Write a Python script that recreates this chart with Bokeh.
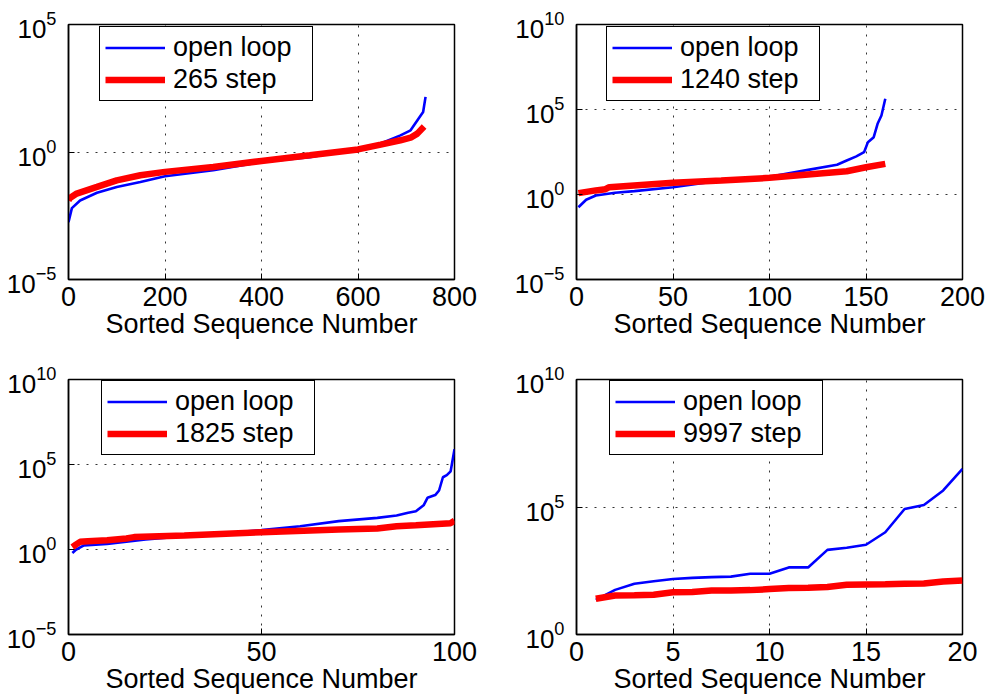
from bokeh.plotting import figure
from bokeh.models import Range1d, FixedTicker, Legend, LegendItem
from bokeh.layouts import column, row
from bokeh.embed import file_html
from bokeh.resources import INLINE

FONT = "Liberation Sans"
BLUE = "#0000ff"
RED = "#ff0000"

# ---------------- data ----------------
# Panel 1: 265 step
p1_blue_x = [0, 7, 24, 59, 100, 149, 200, 300, 400, 500, 600, 647, 688, 709, 726, 735, 740]
p1_blue_y = [0.00178, 0.00631, 0.0126, 0.0251, 0.0427, 0.0661, 0.112, 0.191, 0.407, 0.631,
             1.35, 2.14, 4.47, 7.08, 20.9, 37.2, 145.0]
p1_red_x = [0, 3, 17, 59, 100, 149, 200, 300, 400, 500, 600, 647, 688, 709, 723, 737]
p1_red_y = [0.0126, 0.0158, 0.0234, 0.0427, 0.0776, 0.123, 0.166, 0.257, 0.447, 0.741,
            1.26, 1.95, 2.88, 3.63, 5.25, 10.0]

# Panel 2: 1240 step
p2_blue_x = [1, 5, 10, 20, 30, 50, 75, 100, 120, 135, 140, 145, 149, 151, 154, 156, 158, 160]
p2_blue_y = [0.178, 0.49, 0.87, 1.26, 1.58, 2.69, 6.61, 11.2, 28.2, 56.2, 100.0, 174.0,
             309.0, 1202.0, 2344.0, 14454.0, 44668.0, 426580.0]
p2_red_x = [1, 10, 15, 17, 50, 75, 100, 120, 140, 150, 160]
p2_red_y = [1.2, 1.74, 2.04, 2.69, 4.9, 6.6, 9.55, 15.1, 23.4, 39.8, 63.1]

# Panel 3: 1825 step
p3_blue_x = [1, 2, 4, 10, 20, 30, 40, 50, 60, 70, 80, 85, 88, 90, 92, 93, 95, 96, 97, 98, 99, 100]
p3_blue_y = [0.63, 1.0, 1.74, 2.14, 3.89, 6.03, 8.7, 13.8, 23.4, 46.8, 72.4, 100.0, 145.0,
             178.0, 398.0, 1096.0, 1585.0, 2951.0, 17783.0, 23442.0, 39811.0, 794328.0]
p3_red_x = [1, 2, 3, 5, 10, 15, 17, 30, 50, 70, 80, 85, 90, 99, 100]
p3_red_y = [1.38, 2.0, 2.82, 3.09, 3.55, 4.47, 5.37, 6.6, 10.5, 15.1, 17.4, 23.4, 26.9, 35.5, 50.1]

# Panel 4: 9997 step
p4_x = [1, 2, 3, 4, 5, 6, 7, 8, 9, 10, 11, 12, 13, 14, 15, 16, 17, 18, 19, 20]
p4_blue_y = [22.9, 56.2, 97.7, 123.0, 151.0, 166.0, 178.0, 186.0, 240.0, 240.0, 427.0, 427.0,
             2089.0, 2512.0, 3311.0, 10233.0, 83176.0, 120226.0, 446684.0, 3162278.0]
p4_red_y = [25.1, 33.9, 34.7, 36.3, 45.7, 46.8, 53.7, 53.7, 55.0, 60.3, 66.1, 67.6, 72.4,
            89.1, 91.2, 93.3, 97.7, 100.0, 120.0, 132.0]

legend_open = "open loop"
legend_steps = ["265 step", "1240 step", "1825 step", "9997 step"]
x_label = "Sorted Sequence Number"

x_ticks = [[0, 200, 400, 600, 800], [0, 50, 100, 150, 200], [0, 50, 100], [0, 5, 10, 15, 20]]
y_ticks = [[1e-5, 1e0, 1e5], [1e-5, 1e0, 1e5, 1e10], [1e-5, 1e0, 1e5, 1e10], [1e0, 1e5, 1e10]]
y_limits = [(1e-5, 1e5), (1e-5, 1e10), (1e-5, 1e10), (1e0, 1e10)]


def make_panel(w, h, bl, br, bt, bb, xt, yt, ylim, bx, by, rx, ry, step_label, leg_loc):
    p = figure(width=w, height=h, y_axis_type="log",
               x_range=Range1d(xt[0], xt[-1]), y_range=Range1d(*ylim),
               output_backend="svg", toolbar_location=None, tools="",
               min_border_left=bl, min_border_right=br, min_border_top=bt, min_border_bottom=bb)
    p.background_fill_color = "white"
    p.border_fill_color = "white"
    p.outline_line_color = "black"
    p.outline_line_width = 1.5
    p.outline_line_alpha = 1.0

    p.xaxis.ticker = FixedTicker(ticks=xt)
    p.yaxis.ticker = FixedTicker(ticks=yt)
    for ax in (p.xaxis[0], p.yaxis[0]):
        ax.axis_line_color = "black"
        ax.axis_line_width = 1.5
        ax.major_tick_in = 6
        ax.major_tick_out = 0
        ax.minor_tick_in = 0
        ax.minor_tick_out = 0
        ax.major_tick_line_color = "black"
        ax.major_label_text_font = FONT
        ax.major_label_text_color = "black"
    p.xaxis.major_label_text_font_size = "27px"
    p.yaxis.major_label_text_font_size = "26px"
    p.xaxis.major_label_standoff = 7
    p.yaxis.major_label_standoff = 12
    p.xaxis.axis_label = x_label
    p.xaxis.axis_label_text_font = FONT
    p.xaxis.axis_label_text_font_size = "27px"
    p.xaxis.axis_label_text_font_style = "normal"
    p.xaxis.axis_label_text_color = "black"
    p.xaxis.axis_label_standoff = 0

    p.grid.grid_line_color = "#333333"
    p.grid.grid_line_dash = "2 7"
    p.grid.grid_line_width = 1

    rb = p.line(bx, by, line_color=BLUE, line_width=2.6)
    rr = p.line(rx, ry, line_color=RED, line_width=6.5)

    leg = Legend(items=[LegendItem(label=legend_open, renderers=[rb]),
                        LegendItem(label=step_label, renderers=[rr])],
                 location=leg_loc)
    leg.border_line_color = "black"
    leg.border_line_alpha = 1.0
    leg.border_line_width = 1.5
    leg.background_fill_color = "white"
    leg.background_fill_alpha = 1.0
    leg.label_text_font = FONT
    leg.label_text_font_size = "27px"
    leg.label_text_color = "black"
    leg.glyph_width = 60
    leg.glyph_height = 29
    leg.label_height = 29
    leg.label_width = 134
    leg.label_standoff = 8
    leg.spacing = 1
    leg.padding = 5
    leg.margin = 0
    p.add_layout(leg)
    return p


p1 = make_panel(494, 349, 68, 40, 24, 70, x_ticks[0], y_ticks[0], y_limits[0],
                p1_blue_x, p1_blue_y, p1_red_x, p1_red_y, legend_steps[0], (31, 178))
p2 = make_panel(495, 349, 82, 27, 24, 70, x_ticks[1], y_ticks[1], y_limits[1],
                p2_blue_x, p2_blue_y, p2_red_x, p2_red_y, legend_steps[1], (30, 178))
p3 = make_panel(494, 349, 68, 40, 30, 64, x_ticks[2], y_ticks[2], y_limits[2],
                p3_blue_x, p3_blue_y, p3_red_x, p3_red_y, legend_steps[2], (33, 179))
p4 = make_panel(495, 349, 82, 27, 30, 64, x_ticks[3], y_ticks[3], y_limits[3],
                p4_x, p4_blue_y, p4_x, p4_red_y, legend_steps[3], (33, 179))

layout = column(row(p1, p2), row(p3, p4))
open("out.html", "w").write(file_html(layout, INLINE))
